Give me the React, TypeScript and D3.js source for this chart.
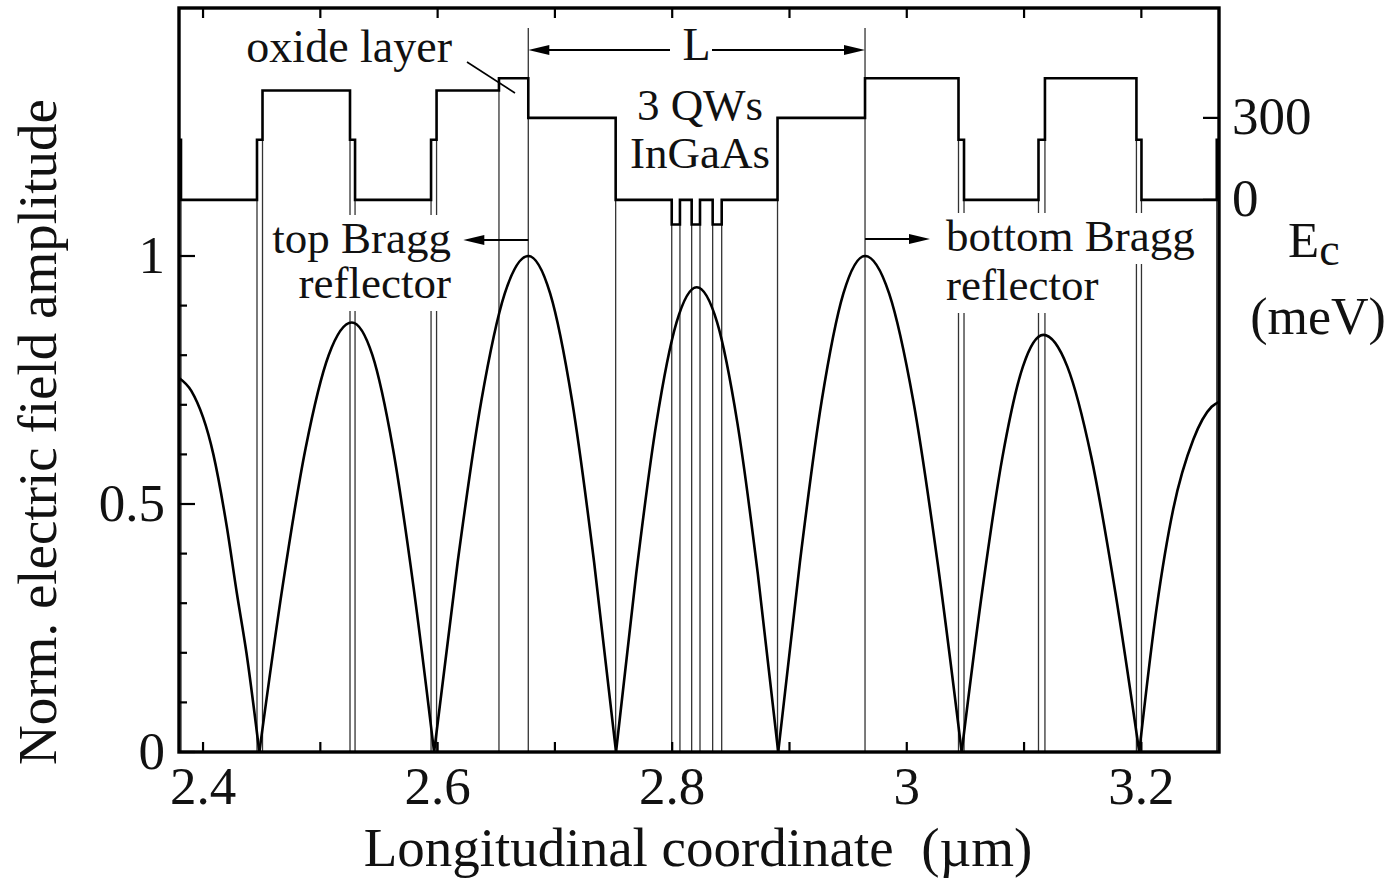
import React, { useEffect, useRef } from 'react';
import * as d3 from 'd3';

// conduction band profile: start of each layer (µm) and its Ec (meV)
const layerStarts = [
  2.3795, 2.3812, 2.446, 2.4507, 2.5253, 2.5296, 2.5944, 2.5991, 2.6523, 2.6773,
  2.7518, 2.7996, 2.8066, 2.8166, 2.8237, 2.8345, 2.8422, 2.8898, 2.9644, 3.0441,
  3.0488, 3.1123, 3.1178, 3.1958, 3.2001, 3.2643,
];
const layerLevels = [
  220, 0, 220, 400, 220, 0, 220, 400, 445, 300,
  0, -90, 0, -90, 0, -90, 0, 300, 445, 220,
  0, 220, 445, 220, 0, 220,
];
const structureEnd = 3.2662;

// cavity length L (µm)
const cavityBounds = [2.6773, 2.9644];

// |E|, zeros are cusps
const fieldPoints: [number, number][] = [
  [2.3795, 0.754], [2.39, 0.728], [2.4088, 0.6], [2.4202, 0.455], [2.4287, 0.322], [2.437, 0.2], [2.448, 0],
  [2.4677, 0.332], [2.4874, 0.612], [2.5071, 0.8], [2.5268, 0.866], [2.5444, 0.8], [2.5619, 0.612], [2.5795, 0.332], [2.597, 0],
  [2.6171, 0.383], [2.6372, 0.707], [2.6572, 0.924], [2.6773, 1.0], [2.696, 0.924], [2.7147, 0.707], [2.7334, 0.383], [2.7521, 0],
  [2.7693, 0.359], [2.7865, 0.663], [2.8037, 0.866], [2.8209, 0.937], [2.8383, 0.866], [2.8556, 0.663], [2.873, 0.359], [2.8904, 0],
  [2.9089, 0.383], [2.9274, 0.707], [2.9459, 0.924], [2.9644, 1.0], [2.985, 0.924], [3.0056, 0.707], [3.0262, 0.383], [3.0468, 0],
  [3.0642, 0.322], [3.0816, 0.595], [3.099, 0.777], [3.1164, 0.841], [3.1369, 0.777], [3.1573, 0.595], [3.1778, 0.322], [3.1982, 0],
  [3.213, 0.29], [3.2272, 0.49], [3.2443, 0.63], [3.2599, 0.696], [3.2662, 0.706],
];

const xTickValues = [2.4, 2.5, 2.6, 2.7, 2.8, 2.9, 3.0, 3.1, 3.2];
const xTickLabels = [[2.4, '2.4'], [2.6, '2.6'], [2.8, '2.8'], [3.0, '3'], [3.2, '3.2']];
const fieldTickValues = [0, 0.1, 0.2, 0.3, 0.4, 0.5, 0.6, 0.7, 0.8, 0.9, 1.0];
const fieldTickLabels = [[0, '0'], [0.5, '0.5'], [1, '1']];
const energyTickValues = [0, 300];

const FONT = "'Liberation Serif', 'Times New Roman', Times, serif";

const App = () => {
  const ref = useRef<SVGSVGElement>(null);

  useEffect(() => {
    const svg = d3.select(ref.current);
    svg.selectAll('*').remove();

    const left = 179, right = 1219, top = 8, bottom = 752;
    const x = d3.scaleLinear().domain([2.3795, 3.2662]).range([left, right]);
    const yF = d3.scaleLinear().domain([0, 1.5]).range([bottom, top]);
    const yE = d3.scaleLinear().domain([-2020, 702]).range([bottom, top]);

    // layer interfaces, thin lines down to the axis
    const gIf = svg.append('g').attr('stroke', '#333').attr('stroke-width', 1.3);
    for (let i = 1; i < layerStarts.length; i++) {
      const xb = layerStarts[i];
      const low = Math.min(layerLevels[i - 1], layerLevels[i]);
      const y1 = cavityBounds.includes(xb) ? top + 20 : yE(low);
      gIf.append('line')
        .attr('x1', x(xb)).attr('x2', x(xb))
        .attr('y1', y1).attr('y2', yF(0));
    }

    // field amplitude, split at the zeros so the cusps stay sharp
    const arches: [number, number][][] = [];
    let cur: [number, number][] = [];
    fieldPoints.forEach(p => {
      cur.push(p);
      if (p[1] === 0 && cur.length > 1) { arches.push(cur); cur = [p]; }
    });
    if (cur.length > 1) arches.push(cur);

    const fieldLine = d3.line<[number, number]>()
      .x(d => x(d[0])).y(d => yF(d[1]))
      .curve(d3.curveMonotoneX);
    svg.append('g').selectAll('path').data(arches).join('path')
      .attr('d', d => fieldLine(d))
      .attr('fill', 'none').attr('stroke', '#000').attr('stroke-width', 2.6);

    // labels with white boxes behind them
    const boxG = svg.append('g');
    const textG = svg.append('g').attr('font-family', FONT).attr('fill', '#111');
    const label = (s: string, tx: number, ty: number, anchor: string, size: number, box: boolean) => {
      const t = textG.append('text')
        .attr('x', tx).attr('y', ty)
        .attr('text-anchor', anchor)
        .attr('font-size', size)
        .text(s);
      if (box) {
        const bb = (t.node() as SVGTextElement).getBBox();
        boxG.append('rect')
          .attr('x', bb.x - 5).attr('y', bb.y + 2)
          .attr('width', bb.width + 10).attr('height', bb.height + 1)
          .attr('fill', '#fff');
      }
      return t;
    };

    const xL = x(cavityBounds[0]);
    const xR = x(cavityBounds[1]);

    label('oxide layer', 452, 62, 'end', 46, false);
    label('L', (xL + xR) / 2, 60, 'middle', 46, true);
    label('3 QWs', 700, 120, 'middle', 45, false);
    label('InGaAs', 700, 168, 'middle', 45, false);
    label('top Bragg', 451, 253, 'end', 45, true);
    label('reflector', 451, 298, 'end', 45, true);
    label('bottom Bragg', 946, 251, 'start', 45, true);
    label('reflector', 946, 300, 'start', 45, true);

    // arrows
    const gA = svg.append('g');
    const arrow = (x1: number, x2: number, ay: number) => {
      const dir = Math.sign(x2 - x1);
      gA.append('line').attr('x1', x1).attr('x2', x2 - dir * 10).attr('y1', ay).attr('y2', ay)
        .attr('stroke', '#000').attr('stroke-width', 1.8);
      gA.append('path')
        .attr('d', `M${x2},${ay}L${x2 - dir * 21},${ay - 5}L${x2 - dir * 21},${ay + 5}Z`)
        .attr('fill', '#000');
    };
    arrow(670, xL, 50);
    arrow(712, xR, 50);
    arrow(xL, xL - 65, 240);
    arrow(xR, xR + 65, 239);

    // leader for the oxide layer
    svg.append('line')
      .attr('x1', 467).attr('y1', 62).attr('x2', 515).attr('y2', 93)
      .attr('stroke', '#000').attr('stroke-width', 1.6);

    // band profile
    const bandPts: [number, number][] = layerStarts.map((s, i) => [s, layerLevels[i]]);
    bandPts.push([structureEnd, layerLevels[layerLevels.length - 1]]);
    const bandLine = d3.line<[number, number]>()
      .x(d => x(d[0])).y(d => yE(d[1]))
      .curve(d3.curveStepAfter);
    svg.append('path')
      .attr('d', bandLine(bandPts))
      .attr('fill', 'none').attr('stroke', '#000').attr('stroke-width', 2.6);

    // frame
    svg.append('rect')
      .attr('x', left).attr('y', top)
      .attr('width', right - left).attr('height', bottom - top)
      .attr('fill', 'none').attr('stroke', '#000').attr('stroke-width', 3.4);

    // ticks
    const gT = svg.append('g').attr('stroke', '#000').attr('stroke-width', 2.2);
    xTickValues.forEach(v => {
      gT.append('line').attr('x1', x(v)).attr('x2', x(v)).attr('y1', bottom).attr('y2', bottom - 10);
      gT.append('line').attr('x1', x(v)).attr('x2', x(v)).attr('y1', top).attr('y2', top + 10);
    });
    fieldTickValues.forEach(v => {
      const major = Math.abs(v * 2 - Math.round(v * 2)) < 1e-6;
      gT.append('line').attr('x1', left).attr('x2', left + (major ? 16 : 8)).attr('y1', yF(v)).attr('y2', yF(v));
    });
    energyTickValues.forEach(v => {
      gT.append('line').attr('x1', right).attr('x2', right - 16).attr('y1', yE(v)).attr('y2', yE(v));
    });

    // tick labels
    const gL = svg.append('g').attr('font-family', FONT).attr('font-size', 53).attr('fill', '#111');
    xTickLabels.forEach(([v, s]) => {
      gL.append('text').attr('x', x(v as number)).attr('y', 804).attr('text-anchor', 'middle').text(s as string);
    });
    fieldTickLabels.forEach(([v, s]) => {
      gL.append('text').attr('x', 165).attr('y', yF(v as number) + 17).attr('text-anchor', 'end').text(s as string);
    });
    energyTickValues.forEach(v => {
      gL.append('text').attr('x', 1232).attr('y', yE(v) + 16).attr('text-anchor', 'start').text(String(v));
    });

    // axis titles
    const gTi = svg.append('g').attr('font-family', FONT).attr('fill', '#111');
    gTi.append('text')
      .attr('x', 698).attr('y', 866).attr('text-anchor', 'middle').attr('font-size', 55)
      .text('Longitudinal coordinate  (µm)')
      .attr('xml:space', 'preserve').style('white-space', 'pre');
    gTi.append('text')
      .attr('transform', 'translate(56,432) rotate(-90)')
      .attr('text-anchor', 'middle').attr('font-size', 55)
      .text('Norm. electric field amplitude');
    const ec = gTi.append('text').attr('x', 1288).attr('y', 257).attr('font-size', 51);
    ec.append('tspan').text('E');
    ec.append('tspan').attr('dy', 8).attr('font-size', 46).text('c');
    gTi.append('text')
      .attr('x', 1318).attr('y', 334).attr('text-anchor', 'middle').attr('font-size', 52)
      .text('(meV)');
  }, []);

  return (
    <svg
      ref={ref}
      width={1395}
      height={880}
      style={{ position: 'absolute', left: 0, top: 0, background: '#fff' }}
    />
  );
};

export default App;
